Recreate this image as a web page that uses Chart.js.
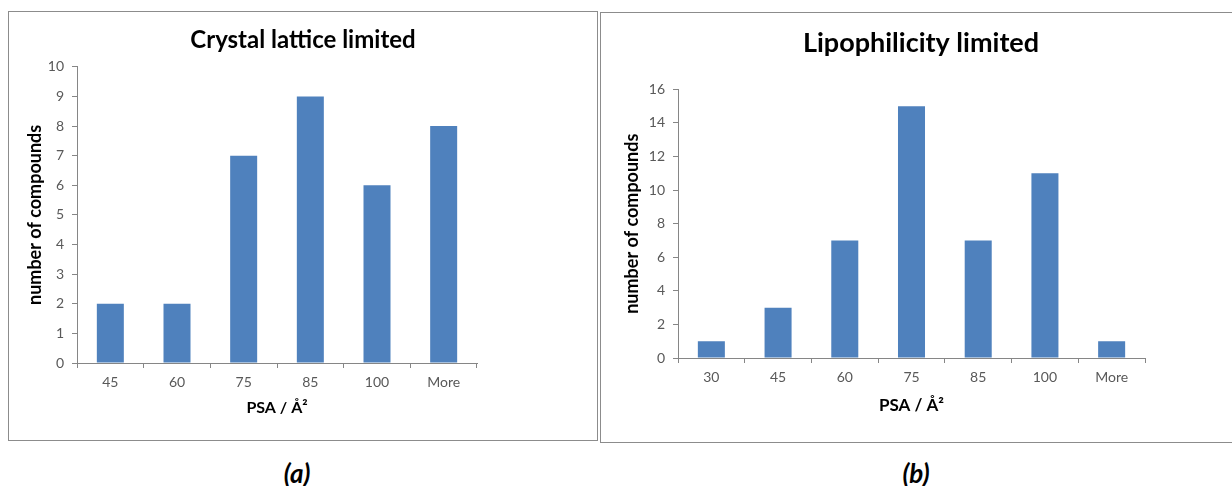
<!DOCTYPE html>
<html>
<head>
<meta charset="utf-8">
<script src="https://cdn.jsdelivr.net/npm/chart.js"></script>
<style>
  body { margin: 0; width: 1232px; height: 486px; overflow: hidden; background: #fff; position: relative; font-family: Lato, sans-serif; }
  .panel { position: absolute; border: 1px solid #8c8c8c; box-sizing: border-box; }
  .panel canvas { position: absolute; left: 0; top: 0; }
  .cap { position: absolute; top: 457px; line-height: 1; font: italic bold 26px Lato, sans-serif; color: #000; transform: translateX(-50%); }
</style>
</head>
<body>
<div class="panel" style="left:8px; top:11px; width:590px; height:430px;">
  <canvas id="chartA" width="588" height="428"></canvas>
</div>
<div class="panel" style="left:600px; top:12px; width:642px; height:431px;">
  <canvas id="chartB" width="640" height="429"></canvas>
</div>
<div class="cap" style="left:297px;">(a)</div>
<div class="cap" style="left:916px;">(b)</div>

<script>
// panel (a): crystal lattice limited
const labelsA = ['45', '60', '75', '85', '100', 'More'];
const countsA = [2, 2, 7, 9, 6, 8];

// panel (b): lipophilicity limited
const labelsB = ['30', '45', '60', '75', '85', '100', 'More'];
const countsB = [1, 3, 7, 15, 7, 11, 1];

const barColor = '#4F81BD';
const axisColor = '#868686';
const tickColor = '#595959';

function makeChart(id, labels, counts, opt) {
  return new Chart(document.getElementById(id), {
    type: 'bar',
    data: {
      labels: labels,
      datasets: [{
        data: counts,
        backgroundColor: barColor,
        borderWidth: 0,
        barPercentage: 0.405,
        categoryPercentage: 1
      }]
    },
    options: {
      responsive: false,
      animation: false,
      layout: { padding: 0 },
      plugins: {
        legend: { display: false },
        tooltip: { enabled: false },
        title: {
          display: true,
          text: opt.title,
          color: '#000',
          font: { family: 'Lato', size: opt.titleSize, weight: 'bold' },
          padding: opt.titlePad
        }
      },
      scales: {
        x: {
          grid: { drawOnChartArea: false, drawTicks: true, tickLength: 5, color: axisColor, offset: true },
          border: { display: true, color: axisColor },
          ticks: { color: tickColor, font: { family: 'Lato', size: 14 }, padding: 6, maxRotation: 0 },
          title: {
            display: true,
            text: 'PSA / Å²',
            color: '#000',
            font: { family: 'Lato', size: opt.xTitleSize, weight: 'bold' },
            padding: { top: 0, bottom: opt.xTitlePad }
          },
          afterFit: function (s) { s.height = opt.xHeight; }
        },
        y: {
          min: 0,
          max: opt.max,
          grid: { drawOnChartArea: false, drawTicks: true, tickLength: 5, color: axisColor },
          border: { display: true, color: axisColor },
          ticks: { stepSize: opt.step, color: tickColor, font: { family: 'Lato', size: 14 }, padding: 8 },
          title: {
            display: true,
            text: 'number of compounds',
            color: '#000',
            font: { family: 'Lato', size: 18, weight: 'bold' },
            padding: { top: opt.yTitlePad, bottom: 0 }
          },
          afterFit: function (s) { s.width = opt.yWidth; }
        },
        // empty right-hand box so the title centres on the whole panel
        spacer: {
          type: 'linear',
          axis: 'y',
          position: 'right',
          ticks: { display: false },
          grid: { display: false },
          border: { display: false },
          afterFit: function (s) { s.width = opt.rightGap; }
        }
      }
    }
  });
}

makeChart('chartA', labelsA, countsA, {
  title: 'Crystal lattice limited',
  titleSize: 24,
  titlePad: { top: 14, bottom: 12 },
  yWidth: 68,
  rightGap: 120,
  yTitlePad: 15,
  xHeight: 77,
  xTitleSize: 16,
  xTitlePad: 23,
  max: 10,
  step: 1
});

makeChart('chartB', labelsB, countsB, {
  title: 'Lipophilicity limited',
  titleSize: 27,
  titlePad: { top: 14, bottom: 30 },
  yWidth: 77,
  rightGap: 96,
  yTitlePad: 20,
  xHeight: 84,
  xTitleSize: 17,
  xTitlePad: 26,
  max: 16,
  step: 2
});
</script>
</body>
</html>
